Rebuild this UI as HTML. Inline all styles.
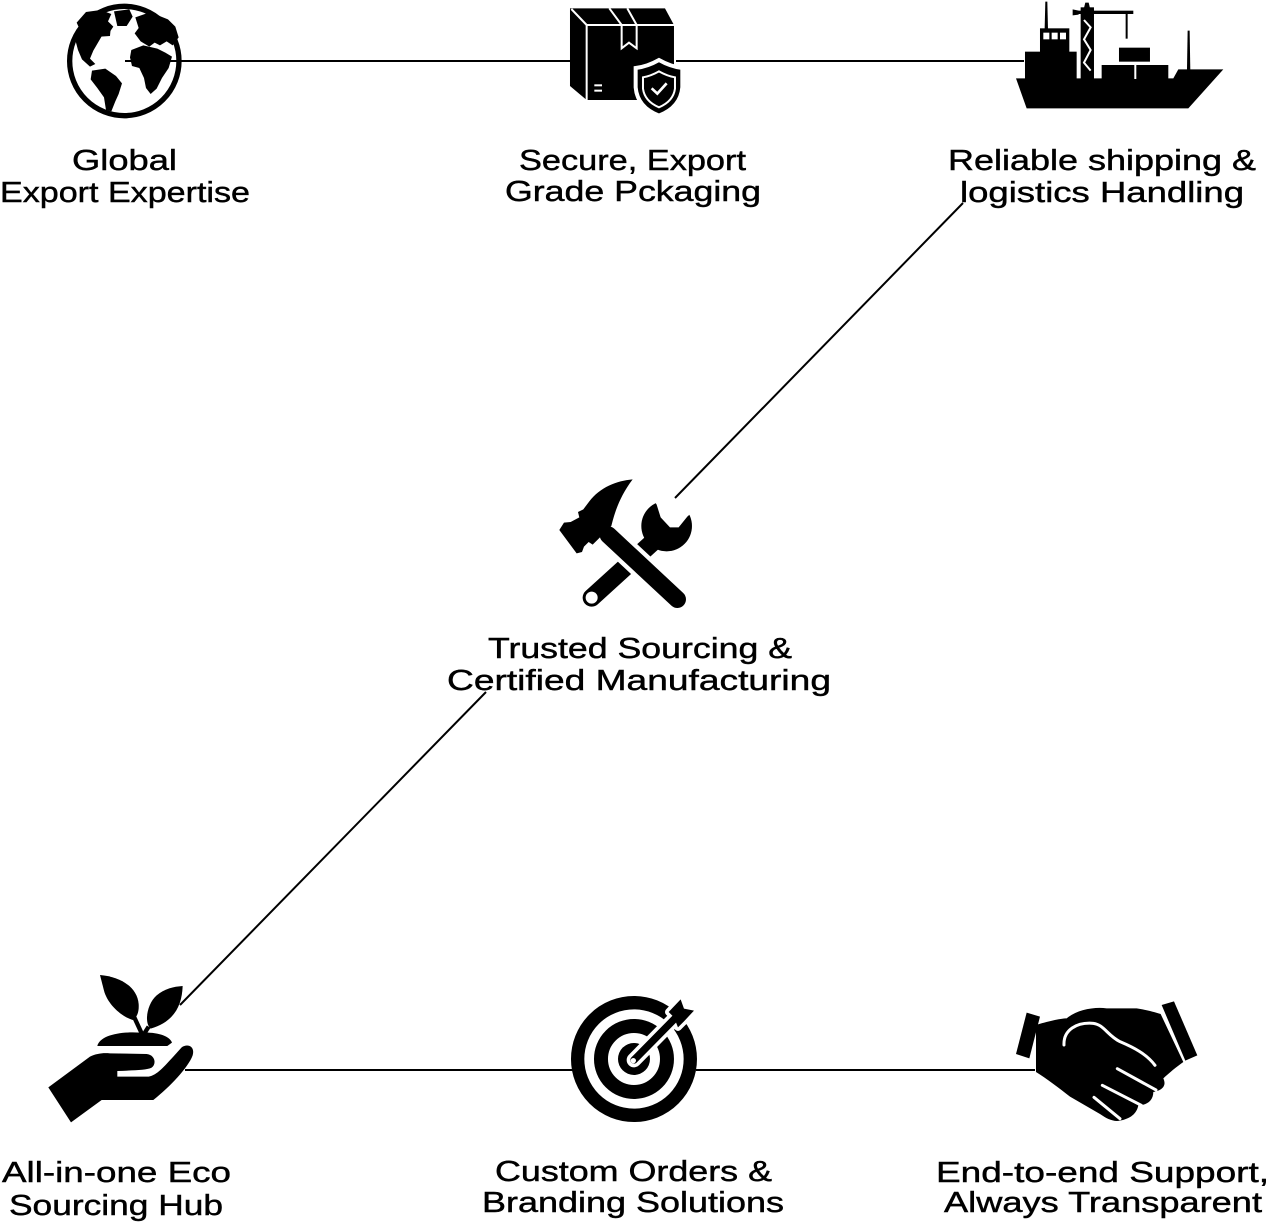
<!DOCTYPE html>
<html>
<head>
<meta charset="utf-8">
<style>
  html, body { margin: 0; padding: 0; background: #fff; }
  body { width: 1272px; height: 1225px; overflow: hidden; }
  svg { display: block; }
  text { font-family: "Liberation Sans", "DejaVu Sans", sans-serif; font-size: 29px; fill: #000; stroke: #000; stroke-width: 0.45px; }
</style>
</head>
<body>
<svg width="1272" height="1225" viewBox="0 0 1272 1225" xmlns="http://www.w3.org/2000/svg">
  <rect width="1272" height="1225" fill="#fff"/>

  <!-- Globe -->
  <g transform="translate(0,0) scale(0.3333)">
    <circle cx="373" cy="183" r="164" fill="none" stroke="#000" stroke-width="16"/>
    <g fill="#000">
      <path d="M258,36 L302,30 L334,42 L324,64 L340,80 L328,98 L308,104 L294,128 L280,152 L270,176 L286,192 L270,200 L246,178 L234,150 L226,120 L240,90 L230,68 Z"/>
      <path d="M342,34 L388,28 L398,50 L380,78 L352,78 Z"/>
      <path d="M298,84 L332,86 L330,108 L302,110 Z"/>
      <path d="M406,52 L440,40 L474,46 L504,58 L526,80 L536,112 L518,136 L500,124 L480,136 L464,128 L448,140 L422,124 L404,100 L416,84 Z"/>
      <path d="M394,150 L430,136 L472,146 L496,158 L516,170 L506,204 L486,234 L470,266 L452,282 L438,264 L432,234 L418,204 L396,198 L390,172 Z"/>
      <path d="M276,212 L316,206 L348,228 L366,250 L356,282 L346,304 L334,334 L318,330 L312,292 L292,264 L272,238 Z"/>
    </g>
  </g>

  <!-- Box with shield -->
  <g transform="translate(480,0) scale(0.3333)">
    <polygon points="270,25 555,25 582,75 582,300 320,300 270,258" fill="#000"/>
    <g stroke="#fff" stroke-width="6" fill="none">
      <line x1="274" y1="27" x2="320" y2="75"/>
      <line x1="320" y1="75" x2="582" y2="75"/>
      <line x1="320" y1="75" x2="320" y2="302"/>
      <line x1="388" y1="25" x2="425" y2="75"/>
      <line x1="442" y1="25" x2="470" y2="75"/>
      <polyline points="425,75 425,145 447,128 470,145 470,75"/>
      <line x1="343" y1="256" x2="366" y2="256"/>
      <line x1="343" y1="272" x2="366" y2="272"/>
    </g>
    <path d="M537,180 Q572,200 607,204 L607,262 Q602,322 537,347 Q472,322 467,262 L467,204 Q502,200 537,180 Z" fill="#000" stroke="#fff" stroke-width="12"/>
    <path d="M537,214 Q562,228 585,232 L585,266 Q580,304 537,322 Q494,304 489,266 L489,232 Q512,228 537,214 Z" fill="#000" stroke="#fff" stroke-width="6"/>
    <polyline points="515,265 532,281 560,250" fill="none" stroke="#fff" stroke-width="8"/>
  </g>

  <!-- Ship -->
  <g transform="translate(930,0) scale(0.3333)" fill="#000">
    <polygon points="258,235 730,235 745,208 880,208 775,325 290,325"/>
    <rect x="285" y="155" width="155" height="82"/>
    <rect x="330" y="85" width="88" height="72"/>
    <rect x="340" y="98" width="18" height="20" fill="#fff"/>
    <rect x="365" y="98" width="18" height="20" fill="#fff"/>
    <rect x="390" y="98" width="18" height="20" fill="#fff"/>
    <polygon points="346,5 352,5 354,86 344,86"/>
    <rect x="452" y="22" width="40" height="215"/>
    <polygon points="466,8 476,8 480,24 462,24"/>
    <polyline points="462,60 482,82 462,118 482,150 462,188 482,212" fill="none" stroke="#fff" stroke-width="6"/>
    <rect x="430" y="32" width="180" height="10"/>
    <polygon points="428,28 446,32 446,44 428,46"/>
    <rect x="587" y="40" width="6" height="76"/>
    <rect x="515" y="195" width="200" height="42"/>
    <rect x="613" y="195" width="6" height="42" fill="#fff"/>
    <rect x="567" y="143" width="93" height="42"/>
    <polygon points="773,92 779,92 781,210 771,210"/>
  </g>

  <!-- Hammer & wrench -->
  <g transform="translate(440,470) scale(0.3333)">
    <line x1="455" y1="383" x2="640" y2="215" stroke="#000" stroke-width="54" stroke-linecap="round"/>
    <circle cx="680" cy="168" r="76" fill="#000"/>
    <polygon points="632,76 650,104 662,142 690,172 716,172 742,140 766,118 792,90 700,46" fill="#fff"/>
    <circle cx="455" cy="383" r="18" fill="#fff"/>
    <line x1="505" y1="195" x2="712" y2="388" stroke="#fff" stroke-width="78" stroke-linecap="round"/>
    <line x1="505" y1="195" x2="712" y2="388" stroke="#000" stroke-width="52" stroke-linecap="round"/>
    <path d="M578,28 C530,32 480,52 448,94 L430,118 L414,126 L418,142 L392,156 L372,158 L358,180 L410,250 L426,246 L432,230 L446,216 L458,224 L474,208 L494,188 L514,168 C522,138 534,86 578,28 Z" fill="#000"/>
  </g>

  <!-- Hand with plant -->
  <g transform="translate(0,960) scale(0.3333)" fill="#000">
    <path d="M300,45 C362,50 412,82 416,132 C418,160 408,174 398,180 C360,168 322,130 312,92 Z"/>
    <line x1="402" y1="170" x2="426" y2="222" stroke="#000" stroke-width="13"/>
    <path d="M548,78 C546,140 520,186 452,206 C432,190 440,132 470,106 C495,86 520,80 548,78 Z"/>
    <line x1="446" y1="200" x2="432" y2="222" stroke="#000" stroke-width="13"/>
    <path d="M292,258 C300,226 360,214 420,218 C470,215 510,228 516,248 L502,258 Z"/>
    <path d="M145,382 L270,290 C290,280 310,278 330,280 L440,282 C466,285 470,312 455,323 C440,331 400,331 352,333 L352,350 L446,350 C472,345 492,320 520,290 L545,262 C562,250 586,258 578,286 C565,322 510,380 460,420 L305,420 L213,487 Z"/>
  </g>

  <!-- Target -->
  <g transform="translate(470,980) scale(0.3333)">
    <circle cx="492" cy="237" r="169" fill="none" stroke="#000" stroke-width="40"/>
    <circle cx="492" cy="237" r="99" fill="none" stroke="#000" stroke-width="42"/>
    <circle cx="492" cy="237" r="48" fill="#000"/>
    <line x1="492" y1="240" x2="625" y2="105" stroke="#fff" stroke-width="44" stroke-linecap="round"/>
    <path d="M596,96 L632,58 L642,86 L672,92 L642,124 L624,142 L612,112 Z" fill="#fff" stroke="#fff" stroke-width="22" stroke-linejoin="round"/>
    <line x1="492" y1="240" x2="625" y2="105" stroke="#000" stroke-width="22" stroke-linecap="round"/>
    <path d="M596,96 L632,58 L642,86 L672,92 L642,124 L624,142 L612,112 Z" fill="#000"/>
    <circle cx="490" cy="242" r="8" fill="#fff"/>
  </g>

  <!-- Handshake -->
  <g transform="translate(920,990) scale(0.3333)" fill="#000">
    <polygon points="320,68 360,80 328,205 288,192"/>
    <polygon points="725,45 762,34 832,196 796,212"/>
    <path d="M348,105 C380,95 420,85 440,85 C470,60 520,50 560,55 L650,55 C680,60 700,65 722,72 L790,216 C770,230 746,250 730,265 C742,290 722,302 700,306 C700,332 680,346 655,346 C650,372 630,386 600,392 C580,396 560,386 540,372 L450,320 C420,296 380,266 348,246 Z"/>
    <g stroke="#fff" stroke-width="9" stroke-linecap="round" fill="none">
      <path d="M432,165 C430,120 470,96 520,100 C552,104 562,136 600,155 C640,172 680,192 705,226"/>
      <line x1="592" y1="236" x2="708" y2="300"/>
      <line x1="547" y1="286" x2="664" y2="346"/>
      <line x1="522" y1="322" x2="600" y2="386"/>
    </g>
  </g>

  <!-- connectors (drawn on top) -->
  <g stroke="#000" stroke-width="2" fill="none">
    <line x1="125" y1="61" x2="571" y2="61"/>
    <line x1="676" y1="61" x2="1024" y2="61"/>
    <line x1="963" y1="203" x2="675" y2="498"/>
    <line x1="486" y1="692" x2="180" y2="1005"/>
    <line x1="185" y1="1070" x2="573" y2="1070"/>
    <line x1="696" y1="1070" x2="1035" y2="1070"/>
  </g>

  <!-- Labels -->
  <text x="72" y="170" textLength="105" lengthAdjust="spacingAndGlyphs">Global</text>
  <text x="0" y="202" textLength="250" lengthAdjust="spacingAndGlyphs">Export Expertise</text>

  <text x="519" y="170" textLength="227" lengthAdjust="spacingAndGlyphs">Secure, Export</text>
  <text x="505" y="201" textLength="256" lengthAdjust="spacingAndGlyphs">Grade Pckaging</text>

  <text x="948" y="170" textLength="308" lengthAdjust="spacingAndGlyphs">Reliable shipping &amp;</text>
  <text x="960" y="202" textLength="284" lengthAdjust="spacingAndGlyphs">logistics Handling</text>

  <text x="488" y="658" textLength="304" lengthAdjust="spacingAndGlyphs">Trusted Sourcing &amp;</text>
  <text x="447" y="690" textLength="384" lengthAdjust="spacingAndGlyphs">Certified Manufacturing</text>

  <text x="2" y="1182" textLength="229" lengthAdjust="spacingAndGlyphs">All-in-one Eco</text>
  <text x="9" y="1215" textLength="214" lengthAdjust="spacingAndGlyphs">Sourcing Hub</text>

  <text x="495" y="1181" textLength="277" lengthAdjust="spacingAndGlyphs">Custom Orders &amp;</text>
  <text x="482" y="1212" textLength="302" lengthAdjust="spacingAndGlyphs">Branding Solutions</text>

  <text x="936" y="1182" textLength="333" lengthAdjust="spacingAndGlyphs">End-to-end Support,</text>
  <text x="944" y="1212" textLength="318" lengthAdjust="spacingAndGlyphs">Always Transparent</text>
</svg>
</body>
</html>
